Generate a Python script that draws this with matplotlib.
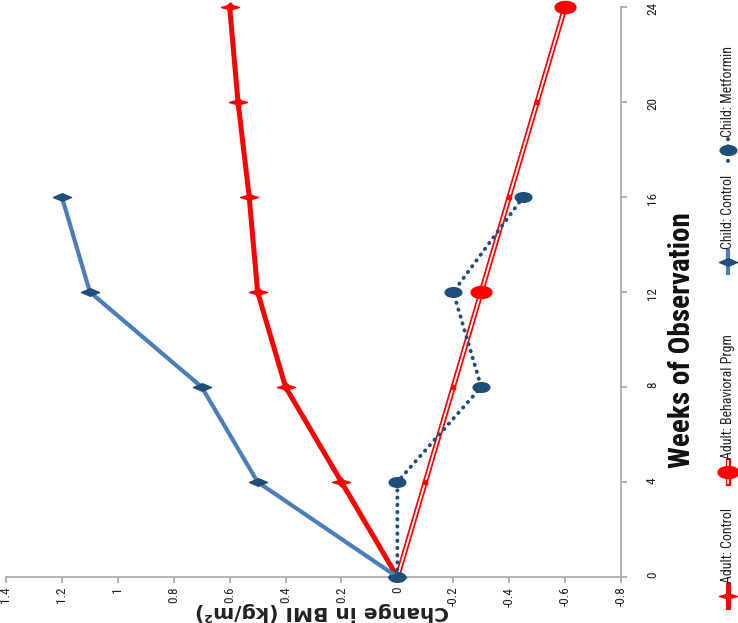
import matplotlib
matplotlib.use('Agg')
import matplotlib.pyplot as plt
from matplotlib import font_manager
from matplotlib.path import Path
from matplotlib.lines import Line2D

# data (chart is drawn turned on its side: BMI runs across, weeks run up)
weeks = [0, 4, 8, 12, 16, 20, 24]
adult_control = [0, 0.2, 0.4, 0.5, 0.53, 0.57, 0.6]
adult_behavioral = [0, -0.1, -0.2, -0.3, -0.4, -0.5, -0.6]
child_weeks = [0, 4, 8, 12, 16]
child_control = [0, 0.5, 0.7, 1.1, 1.2]
child_metformin = [0, 0.0, -0.3, -0.2, -0.45]

bmi_ticks = [1.4, 1.2, 1.0, 0.8, 0.6, 0.4, 0.2, 0, -0.2, -0.4, -0.6, -0.8]
bmi_labels = ['1.4', '1.2', '1', '0.8', '0.6', '0.4', '0.2', '0',
              '-0.2', '-0.4', '-0.6', '-0.8']
week_ticks = [0, 4, 8, 12, 16, 20, 24]
series_names = ['Adult: Control', 'Adult: Behavioral Prgm',
                'Child: Control', 'Child: Metformin']

RED = '#FF0000'
BLUE_LINE = '#4A7EBB'
BLUE_MARK = '#1F4E79'
AXIS_GRAY = '#A6A6A6'

# pick a narrow face if one is around
have = {(f.name, f.stretch) for f in font_manager.fontManager.ttflist}
names = {n for n, s in have}
NARROW = 'DejaVu Sans'
STRETCH = 'normal'
for cand in ['Liberation Sans Narrow', 'Roboto Condensed', 'Open Sans Condensed']:
    if cand in names:
        NARROW = cand
        break
else:
    for n, s in have:
        if s in ('condensed', 'semi-condensed', 'extra-condensed') and n in ('DejaVu Sans', 'Roboto', 'Open Sans', 'Noto Sans'):
            NARROW, STRETCH = n, s
            break

W, H = 738, 623

# squashed marker shapes
wide_diamond = Path([(-1, 0), (0, 0.42), (1, 0), (0, -0.42), (-1, 0)],
                    [Path.MOVETO, Path.LINETO, Path.LINETO, Path.LINETO, Path.CLOSEPOLY])
circ = Path.unit_circle()
wide_dot = Path(circ.vertices * [1, 0.58], circ.codes)
wide_star = Path([(-1, 0), (-0.3, 0.2), (0, 0.5), (0.3, 0.2), (1, 0),
                  (0.3, -0.2), (0, -0.5), (-0.3, -0.2), (-1, 0)],
                 [Path.MOVETO] + [Path.LINETO] * 7 + [Path.CLOSEPOLY])


def px(x, y):
    return x / W, 1 - y / H


fig = plt.figure(figsize=(7.38, 6.23), dpi=100)
l, t = px(6, 7)
r, b = px(621, 577)
ax = fig.add_axes([l, b, r - l, t - b])

# Adult: Behavioral Prgm - double line
ax.plot(adult_behavioral, weeks, color=RED, lw=3.8, zorder=2)
ax.plot(adult_behavioral, weeks, color='white', lw=1.3, zorder=2)
ax.plot(adult_behavioral, weeks, ls='none', marker='s', ms=2.2, color=RED, zorder=2)
ax.plot(adult_behavioral, weeks, ls='none', marker=wide_dot, ms=15, color=RED,
        markevery=[3, 6], zorder=3)

# Adult: Control
ax.plot(adult_control, weeks, color=RED, lw=3.6, marker=wide_star, ms=13,
        zorder=3)

# Child: Metformin
ax.plot(child_metformin, child_weeks, color=BLUE_MARK, lw=2.8,
        linestyle=(0, (0.1, 1.75)), dash_capstyle='round', zorder=4)
ax.plot(child_metformin, child_weeks, ls='none', marker=wide_dot, ms=12,
        color=BLUE_MARK, zorder=4)

# Child: Control
ax.plot(child_control, child_weeks, color=BLUE_LINE, lw=3.0, zorder=5)
ax.plot(child_control, child_weeks, ls='none', marker=wide_diamond, ms=13,
        color=BLUE_MARK, zorder=6)

ax.set_xlim(1.4, -0.8)
ax.set_ylim(0, 24)
for s in ['left', 'top']:
    ax.spines[s].set_visible(False)
for s in ['bottom', 'right']:
    ax.spines[s].set_color(AXIS_GRAY)
    ax.spines[s].set_linewidth(1.2)

ax.yaxis.tick_right()
ax.set_xticks(bmi_ticks, bmi_labels)
ax.set_yticks(week_ticks, [str(w) for w in week_ticks])
ax.tick_params(axis='both', direction='out', length=4, width=1.2,
               color=AXIS_GRAY, labelsize=9.5, labelcolor='#222222')
ax.tick_params(axis='x', pad=3)
ax.tick_params(axis='y', pad=14)
for lab in ax.get_xticklabels() + ax.get_yticklabels():
    lab.set_rotation(90)
    lab.set_family(NARROW)
    lab.set_stretch(STRETCH)
for ln in ax.get_lines():
    ln.set_clip_on(False)

# axis titles
fig.text(*px(322, 612), 'Change in BMI (kg/m²)', rotation=180, ha='center',
         va='center', fontsize=14.5, fontweight='bold', color='#222222')
fig.text(*px(682, 340), 'Weeks of Observation', rotation=90, ha='center',
         va='center', fontsize=21, fontweight='bold', family=NARROW,
         stretch=STRETCH, color='#111111')

# legend, drawn by hand because its entries are turned too
leg_x = 728
leg_pos = [596, 472, 262, 150]
for name, ym in zip(series_names, leg_pos):
    x0, y0 = px(leg_x, ym + 11)
    x1, y1 = px(leg_x, ym - 11)
    xm, ymf = px(leg_x, ym)
    if name == 'Adult: Control':
        fig.add_artist(Line2D([x0, x1], [y0, y1], color=RED, lw=3.6))
        fig.add_artist(Line2D([xm], [ymf], marker=wide_star, ms=13, color=RED))
    elif name == 'Adult: Behavioral Prgm':
        fig.add_artist(Line2D([x0, x1], [y0, y1], color=RED, lw=3.8))
        fig.add_artist(Line2D([x0, x1], [y0, y1], color='white', lw=1.3))
        fig.add_artist(Line2D([xm], [ymf], marker=wide_dot, ms=15, color=RED))
    elif name == 'Child: Control':
        fig.add_artist(Line2D([x0, x1], [y0, y1], color=BLUE_LINE, lw=3.0))
        fig.add_artist(Line2D([xm], [ymf], marker=wide_diamond, ms=13,
                              color=BLUE_MARK))
    else:
        fig.add_artist(Line2D([x0, x1], [y0, y1], color=BLUE_MARK, lw=2.8,
                              linestyle=(0, (0.1, 1.75)), dash_capstyle='round'))
        fig.add_artist(Line2D([xm], [ymf], marker=wide_dot, ms=12,
                              color=BLUE_MARK))
    fig.text(*px(leg_x, ym - 13), name, rotation=90, ha='center', va='bottom',
             fontsize=10, family=NARROW, stretch=STRETCH, color='#222222')

fig.savefig('out.png', dpi=100)
